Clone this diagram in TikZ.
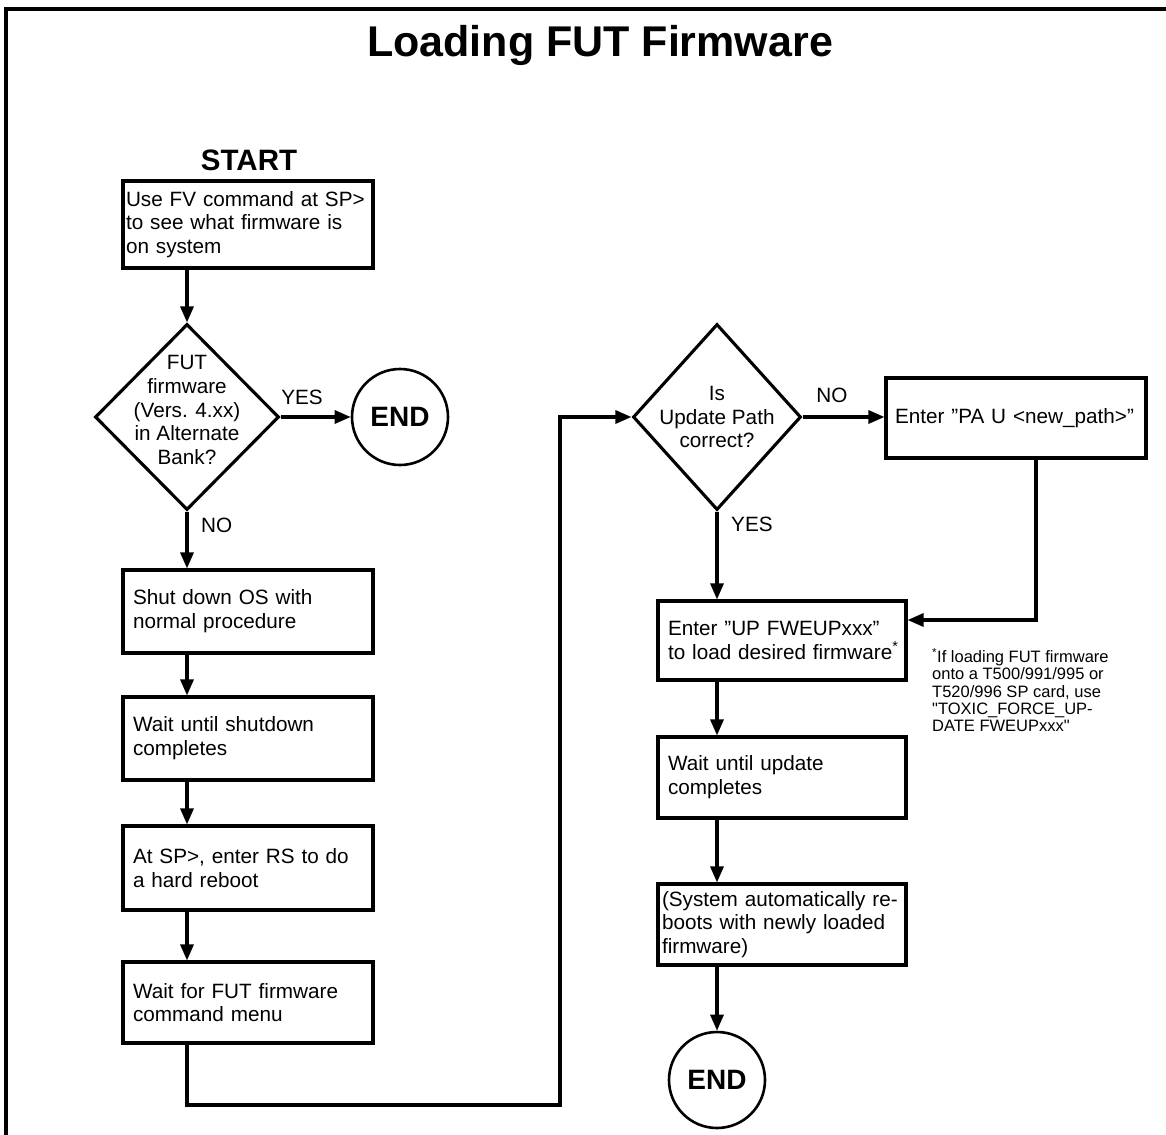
\documentclass[tikz,border=0pt]{standalone}
\usepackage{fontspec}
\setmainfont{Liberation Sans}[Ligatures=TeXOff]
\usetikzlibrary{shapes.geometric,arrows.meta}
\newcommand{\nbx}[1]{\mbox{#1}}
\begin{document}
\begin{tikzpicture}[x=1pt,y=-1pt,
  every node/.style={font=\fontsize{20.7}{23.8}\selectfont},
  box/.style={draw,line width=3.1pt,rectangle,align=left,inner ysep=0pt},
  dia/.style={draw,line width=3.1pt,diamond,inner sep=0pt},
  term/.style={draw,line width=2.6pt,circle,inner sep=0pt,minimum size=96pt,font=\bfseries\fontsize{28}{30}\selectfont},
  lbl/.style={inner sep=0pt},
  conn/.style={line width=3.1pt},
  arr/.style={conn,-{Triangle[length=16pt,width=13pt]}}]
\useasboundingbox (0,0) rectangle (1166,1134);
\draw[line width=4.5pt] (6,1145) -- (6,9) -- (1175,9);

\node[lbl,font=\bfseries\fontsize{43}{46}\selectfont] (title) at (600,45) {Loading FUT Firmware};
\node[lbl,font=\bfseries\fontsize{29.5}{32}\selectfont] (start) at (249,160) {START};

\node[box,minimum height=87,text width=244,inner xsep=3] (b1) at (248,224.5) {\nbx{Use FV command at SP>}\\\nbx{to see what firmware is}\\on system};
\node[dia,minimum width=184,minimum height=186] (d1) at (187,417) {};
\node[lbl,align=center] (d1t) at (187,410) {FUT\\firmware\\(Vers. 4.xx)\\in Alternate\\Bank?};
\node[term] (e1) at (400,417) {END};
\node[lbl] (yes1) at (302,397) {YES};
\node[lbl,anchor=west] (no1) at (201,525) {NO};

\node[box,minimum height=83,text width=230,inner xsep=10] (b2) at (248,611.5) {Shut down OS with\\normal procedure};
\node[box,minimum height=83,text width=230,inner xsep=10] (b3) at (248,738.5) {Wait until shutdown\\completes};
\node[box,minimum height=84,text width=230,inner xsep=10] (b4) at (248,868) {\nbx{At SP>, enter RS to do}\\a hard reboot};
\node[box,minimum height=81,text width=230,inner xsep=10] (b5) at (248,1002.5) {\nbx{Wait for FUT firmware}\\command menu};

\node[dia,minimum width=168,minimum height=186] (d2) at (717,417) {};
\node[lbl,align=center] (d2t) at (d2) {Is\\Update Path\\correct?};
\node[lbl] (no2) at (832,395) {NO};
\node[lbl,anchor=west] (yes2) at (731,524) {YES};
\node[box,minimum height=80,text width=242,inner xsep=9] (b6) at (1016,418) {\nbx{Enter ”PA U <new\_path>”}};

\node[box,minimum height=79,text width=228,inner xsep=10] (b7) at (782,640.5) {\nbx{Enter ”UP FWEUPxxx”}\\\nbx{to load desired firmware\textsuperscript{*}}};
\node[box,minimum height=81,text width=228,inner xsep=10] (b8) at (782,777.5) {Wait until update\\completes};
\node[box,minimum height=81,text width=240,inner xsep=4] (b9) at (782,924.5) {\nbx{(System automatically re-}\\\nbx{boots with newly loaded}\\firmware)};
\node[term] (e2) at (717,1080) {END};

\node[lbl,anchor=north west,align=left,font=\fontsize{16.5}{17.3}\selectfont] (fn) at (932,648) {\nbx{\textsuperscript{*}If loading FUT firmware}\\\nbx{onto a T500/991/995 or}\\\nbx{T520/996 SP card, use}\\\nbx{"TOXIC\_FORCE\_UP-}\\\nbx{DATE FWEUPxxx"}};

\coordinate (c1) at (187,1105);
\coordinate (c2) at (560,1105);
\coordinate (c3) at (1036,620);

\draw[arr] (b1.south -| d1) -- (d1.north);
\draw[arr] (d1.east) -- (e1.west);
\draw[arr] (d1.south) -- (b2.north -| d1);
\draw[arr] (b2.south -| d1) -- (b3.north -| d1);
\draw[arr] (b3.south -| d1) -- (b4.north -| d1);
\draw[arr] (b4.south -| d1) -- (b5.north -| d1);
\draw[arr] (b5.south -| c1) -- (c1) -- (c2) -- (c2 |- d2) -- (d2.west);
\draw[arr] (d2.east) -- (d2.east -| b6.west);
\draw[arr] (b6.south -| c3) -- (c3) -- (c3 -| b7.east);
\draw[arr] (d2.south) -- (b7.north -| d2);
\draw[arr] (b7.south -| d2) -- (b8.north -| d2);
\draw[arr] (b8.south -| d2) -- (b9.north -| d2);
\draw[arr] (b9.south -| d2) -- (e2.north);
\end{tikzpicture}
\end{document}
